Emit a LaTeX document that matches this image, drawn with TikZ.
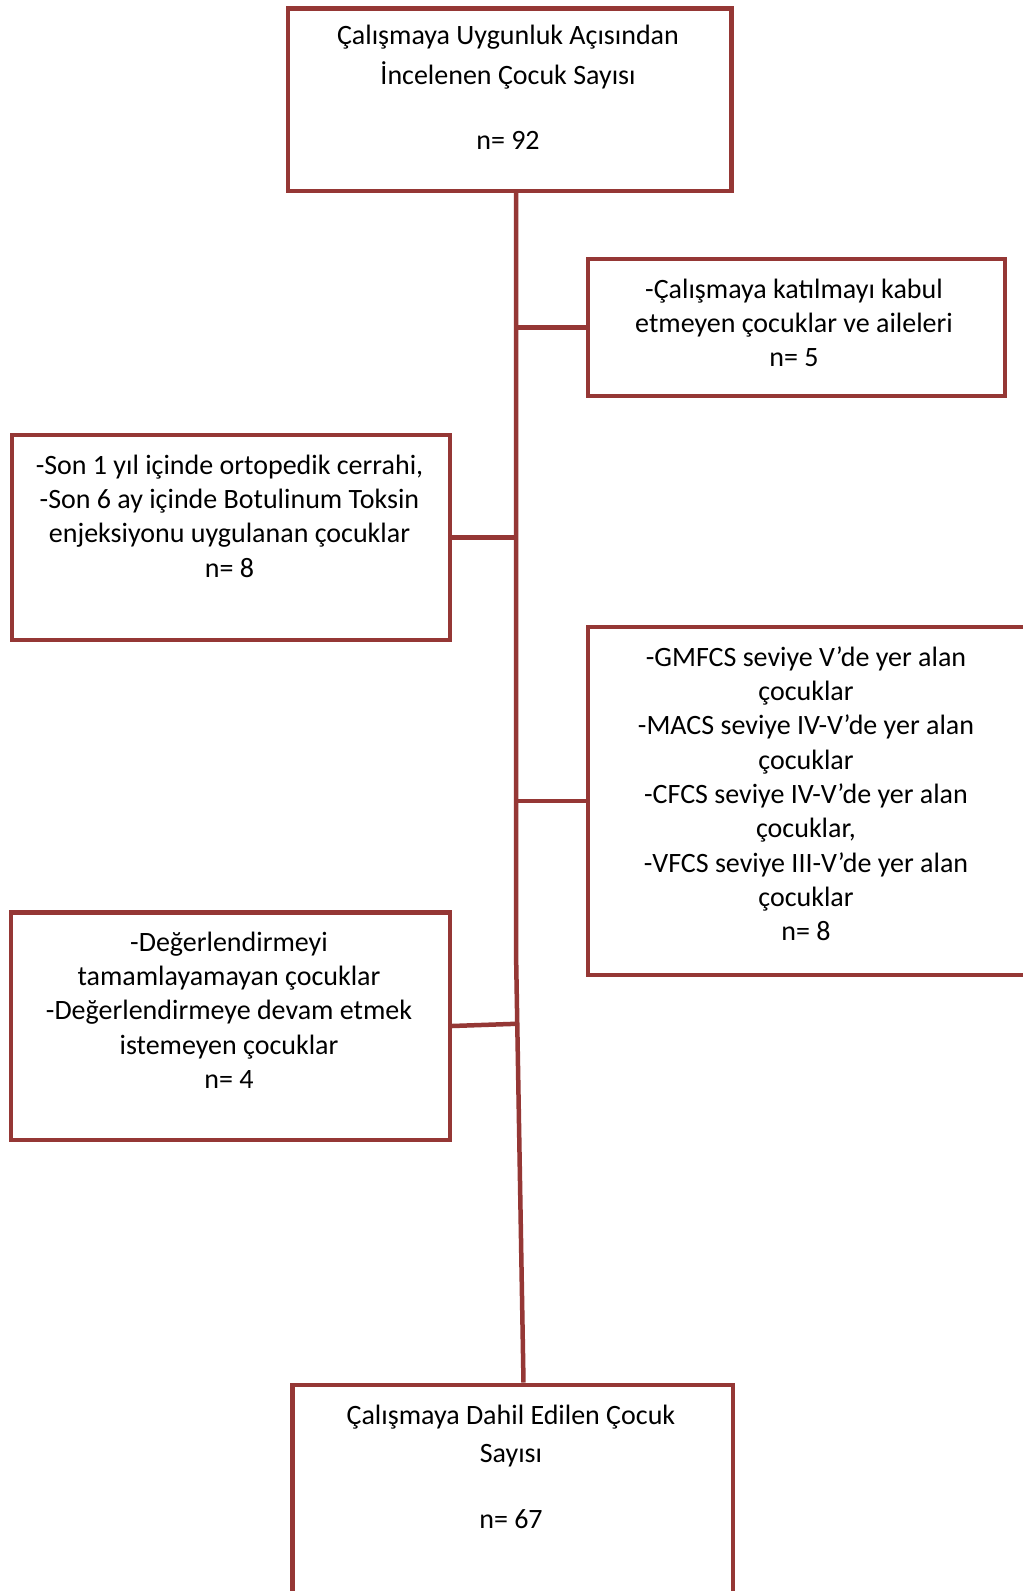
\documentclass[tikz,border=0pt]{standalone}
\usepackage{fontspec}
\setmainfont{Carlito}
\definecolor{frame}{RGB}{149,55,53}
\begin{document}
\begin{tikzpicture}[x=1pt,y=-1pt,
  box/.style={draw=frame, line width=4.5pt, rectangle, inner sep=0pt, anchor=north west},
  txt/.style={align=center, inner sep=0pt, anchor=north, text=black, font={\fontsize{28}{34.3}\selectfont}},
  link/.style={draw=frame, line width=4.5pt}]
\useasboundingbox (2,2) rectangle (1025,1593);
\clip (2,2) rectangle (1025,1593);
\fill[white] (2,2) rectangle (1025,1593);
% boxes
\node[box, minimum width=443.5pt, minimum height=182.5pt] (t) at (287.5,8) {};
\node[box, minimum width=417pt, minimum height=137pt] (r1) at (587.5,258.5) {};
\node[box, minimum width=437.5pt, minimum height=205pt] (l1) at (12,434.5) {};
\node[box, minimum width=439pt, minimum height=348pt] (r2) at (587.5,626.5) {};
\node[box, minimum width=438.5pt, minimum height=227.5pt] (l2) at (11,912) {};
\node[box, minimum width=440.5pt, minimum height=230pt] (b) at (292,1384.5) {};
% texts
\node[txt, font={\fontsize{28}{39.5}\selectfont}] (tt) at (510,22.5) {\rule{0pt}{24pt}Çalışmaya Uygunluk Açısından\\İncelenen Çocuk Sayısı\\[25.5pt]n= 92};
\node[txt] (r1t) at (796,276) {\rule{0pt}{24pt}-Çalışmaya katılmayı kabul\\etmeyen çocuklar ve aileleri\\n= 5};
\node[txt] (l1t) at (231.5,452) {\rule{0pt}{24pt}-Son 1 yıl içinde ortopedik cerrahi,\\-Son 6 ay içinde Botulinum Toksin\\enjeksiyonu uygulanan çocuklar\\n= 8};
\node[txt] (r2t) at (808,644) {\rule{0pt}{24pt}-GMFCS seviye V’de yer alan\\çocuklar\\-MACS seviye IV-V’de yer alan\\çocuklar\\-CFCS seviye IV-V’de yer alan\\çocuklar,\\-VFCS seviye III-V’de yer alan\\çocuklar\\n= 8};
\node[txt] (l2t) at (231,929) {\rule{0pt}{24pt}-Değerlendirmeyi\\tamamlayamayan çocuklar\\-Değerlendirmeye devam etmek\\istemeyen çocuklar\\n= 4};
\node[txt, font={\fontsize{28}{38}\selectfont}] (bt) at (513,1402) {\rule{0pt}{24pt}Çalışmaya Dahil Edilen Çocuk\\Sayısı\\[28pt]n= 67};
% trunk
\coordinate (j) at (518,953);
\coordinate (bj) at (525.5,1384.5);
\coordinate (k2) at (519.3,1025.75);
\draw[link] (t.south -| j) -- (j) -- (bj);
\draw[link] (r1.west) -- (r1.west -| j);
\draw[link] (l1.east) -- (l1.east -| j);
\draw[link] (r2.west) -- (r2.west -| j);
\draw[link] (l2.east) -- (k2);
\end{tikzpicture}
\end{document}
